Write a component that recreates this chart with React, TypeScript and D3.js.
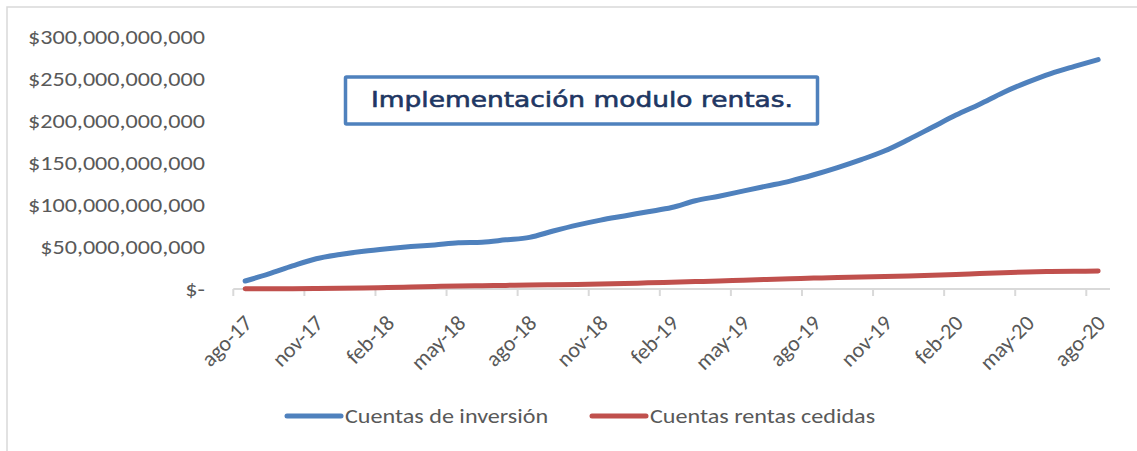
import React from "react";
import * as d3 from "d3";

const months: string[] = [
  "ago-17", "sep-17", "oct-17", "nov-17", "dic-17", "ene-18", "feb-18", "mar-18", "abr-18", "may-18", "jun-18", "jul-18",
  "ago-18", "sep-18", "oct-18", "nov-18", "dic-18", "ene-19", "feb-19", "mar-19", "abr-19", "may-19", "jun-19", "jul-19",
  "ago-19", "sep-19", "oct-19", "nov-19", "dic-19", "ene-20", "feb-20", "mar-20", "abr-20", "may-20", "jun-20", "jul-20",
  "ago-20",
];

// values in billions of pesos
const inversion: number[] = [
  9.5, 18, 27.5, 36, 41, 45, 48, 50.5, 52.5, 55, 55.6, 58.5,
  61.5, 69, 76, 82, 87, 92, 97, 105, 110.5, 116.5, 122.5, 128.5,
  136, 144.5, 154, 164.5, 178, 192.5, 207, 220, 234, 246, 256.5, 265,
  273,
];

const cedidas: number[] = [
  0.2, 0.3, 0.4, 0.6, 0.9, 1.3, 1.8, 2.4, 3.0, 3.5, 3.9, 4.3,
  4.7, 5.0, 5.4, 5.9, 6.5, 7.3, 8.0, 8.8, 9.6, 10.5, 11.4, 12.3,
  13.0, 13.7, 14.2, 14.8, 15.6, 16.5, 17.4, 18.4, 19.4, 20.2, 20.8, 21.1,
  21.3,
];

const yTicks: number[] = [0, 50e9, 100e9, 150e9, 200e9, 250e9, 300e9];
const seriesNames: string[] = ["Cuentas de inversión", "Cuentas rentas cedidas"];
const annotation = "Implementación modulo rentas.";

const BLUE = "#4f81bd";
const RED = "#c0504d";
const GREY_TEXT = "#595959";
const AXIS = "#d9d9d9";
const FONT = "Carlito, Calibri, 'Liberation Sans', Arial, sans-serif";
const SX = 1.15;

export default function App() {
  const W = 1137;
  const H = 451;
  const x = d3.scaleBand<string>().domain(months).range([233.3, 1110]).padding(0);
  const y = d3.scaleLinear().domain([0, 300e9]).range([289, 37]);
  const cx = (m: string) => (x(m) as number) + x.bandwidth() / 2;

  const line = d3
    .line<number>()
    .x((_, i) => cx(months[i]))
    .y((d) => y(d * 1e9))
    .curve(d3.curveMonotoneX);

  const fmt = (v: number) => (v === 0 ? "$-" : "$" + d3.format(",")(v));
  const tickMonths = months.filter((_, i) => i % 3 === 0);

  return (
    <svg width={W} height={H} style={{ position: "absolute", left: 0, top: 0, background: "#fff" }}>
      <rect x={7} y={7} width={1300} height={600} fill="#fff" stroke={AXIS} strokeWidth={1.5} />
      {/* y axis labels */}
      {yTicks.map((t) => (
        <text
          key={t}
          transform={`translate(205,${y(t)}) scale(${SX},1)`}
          dy="0.35em"
          textAnchor="end"
          fontFamily={FONT}
          fontSize={21}
          fill={GREY_TEXT}
        >
          {fmt(t)}
        </text>
      ))}
      {/* x axis */}
      <line x1={x.range()[0]} x2={x.range()[1]} y1={y(0)} y2={y(0)} stroke={AXIS} strokeWidth={2} />
      {tickMonths.map((m) => (
        <line key={"t" + m} x1={x(m)} x2={x(m)} y1={y(0)} y2={y(0) + 7} stroke={AXIS} strokeWidth={2} />
      ))}
      {tickMonths.map((m) => (
        <text
          key={"l" + m}
          transform={`translate(${cx(m) + 3},${y(0) + 30}) rotate(-45)`}
          textAnchor="end"
          dy="0.35em"
          fontFamily={FONT}
          fontSize={22}
          fill={GREY_TEXT}
        >
          {m}
        </text>
      ))}
      {/* lines */}
      <path d={line(cedidas) || ""} fill="none" stroke={RED} strokeWidth={5} strokeLinecap="round" strokeLinejoin="round" />
      <path d={line(inversion) || ""} fill="none" stroke={BLUE} strokeWidth={5} strokeLinecap="round" strokeLinejoin="round" />
      {/* annotation */}
      <rect x={345.5} y={77} width={472} height={47} fill="#fff" stroke={BLUE} strokeWidth={3.5} rx={1} />
      <text
        x={582}
        y={107}
        textAnchor="middle"
        fontFamily="'DejaVu Sans', Verdana, sans-serif"
        fontSize={21}
        fill="#1f3763"
        stroke="#1f3763"
        strokeWidth={0.6}
        textLength={422}
        lengthAdjust="spacingAndGlyphs"
      >
        {annotation}
      </text>
      {/* legend */}
      <line x1={287} x2={341} y1={416} y2={416} stroke={BLUE} strokeWidth={5} strokeLinecap="round" />
      <text transform={`translate(345,416) scale(${SX},1)`} dy="0.35em" fontFamily={FONT} fontSize={21} fill={GREY_TEXT}>
        {seriesNames[0]}
      </text>
      <line x1={592} x2={646} y1={416} y2={416} stroke={RED} strokeWidth={5} strokeLinecap="round" />
      <text transform={`translate(650,416) scale(${SX},1)`} dy="0.35em" fontFamily={FONT} fontSize={21} fill={GREY_TEXT}>
        {seriesNames[1]}
      </text>
    </svg>
  );
}
